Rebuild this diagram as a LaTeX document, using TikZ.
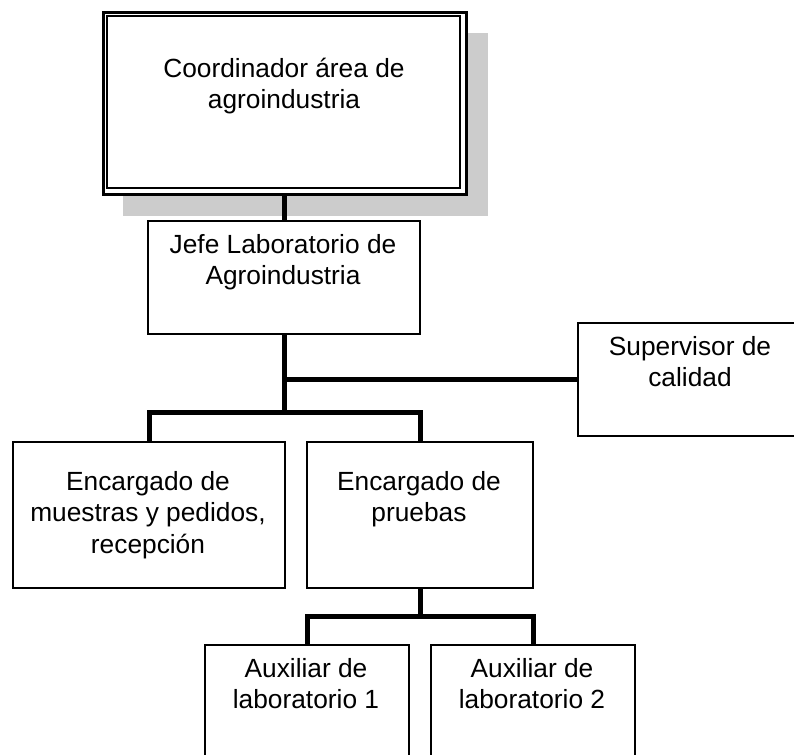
\documentclass[tikz,border=0pt]{standalone}
\usepackage{fontspec}
\setmainfont{Liberation Sans}
\definecolor{shadowgray}{HTML}{CCCCCC}
\begin{document}
\begin{tikzpicture}[x=1bp,y=-1bp,
  box/.style={draw=black, line width=2bp, fill=white, inner sep=0pt, anchor=north west},
  txt/.style={inner sep=0pt, anchor=north, align=center, font=\fontsize{26.3bp}{31.5bp}\selectfont},
  conn/.style={line width=5bp}]
\useasboundingbox (0,0) rectangle (794,755);
\clip (0,0) rectangle (794,755);
% shadow + top box
\fill[shadowgray] (123,33) rectangle (488,216);
\node[box, line width=3bp, minimum width=363bp, minimum height=182bp] (coord) at (102,11) {};
\draw[line width=1.8bp] (107,16) rectangle (460,188);
\node[txt] (coordt) at (284,54.95) {\strut Coordinador área de\\agroindustria};
% Jefe
\node[box, minimum width=272bp, minimum height=113bp] (jefe) at (147,220) {};
\node[txt] (jefet) at (283,230.95) {\strut Jefe Laboratorio de\\Agroindustria};
% Supervisor
\node[box, minimum width=240bp, minimum height=113bp] (sup) at (577,322) {};
\node[txt] (supt) at (690,332.95) {\strut Supervisor de\\calidad};
% Encargados
\node[box, minimum width=272bp, minimum height=146bp] (mues) at (12,441) {};
\node[txt] (muest) at (148,467.95) {\strut Encargado de\\muestras y pedidos,\\recepción};
\node[box, minimum width=226bp, minimum height=146bp] (prue) at (306,441) {};
\node[txt] (pruet) at (419,467.95) {\strut Encargado de\\pruebas};
% Auxiliares
\node[box, minimum width=204bp, minimum height=130bp] (aux1) at (204,644) {};
\node[txt] (aux1t) at (306,654.95) {\strut Auxiliar de\\laboratorio 1};
\node[box, minimum width=204bp, minimum height=130bp] (aux2) at (430,644) {};
\node[txt] (aux2t) at (532,654.95) {\strut Auxiliar de\\laboratorio 2};
% connectors
\coordinate (j1) at (jefe.south |- 0,412);
\coordinate (jsup) at (jefe.south |- sup.west);
\draw[conn] (coord.south -| jefe.north) -- (jefe.north);
\draw[conn] (jefe.south) -- (j1);
\draw[conn] (jsup) -- (sup.west);
\draw[conn] (mues.north) -- (mues.north |- j1) -- (prue.north |- j1) -- (prue.north);
\coordinate (p1) at (prue.south |- 0,616);
\draw[conn] (prue.south) -- (p1);
\draw[conn] (aux1.north) -- (aux1.north |- p1) -- (aux2.north |- p1) -- (aux2.north);
\end{tikzpicture}
\end{document}
